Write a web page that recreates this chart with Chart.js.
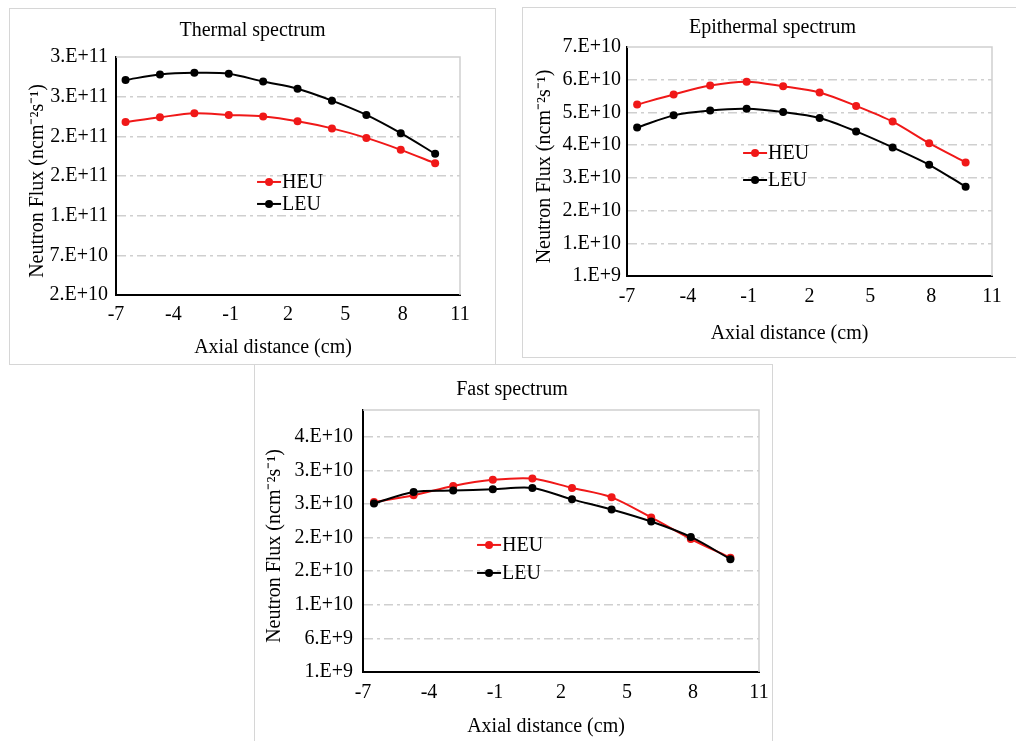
<!DOCTYPE html>
<html>
<head>
<meta charset="utf-8">
<script src="https://cdn.jsdelivr.net/npm/chart.js@4.4.1/dist/chart.umd.min.js"></script>
<style>
  body { margin: 0; background: #fff; width: 1016px; height: 741px; overflow: hidden; position: relative; }
  .panel { position: absolute; border: 1px solid #d6d6d6; box-sizing: border-box; }
  .panel canvas { display: block; }
</style>
</head>
<body>
<div class="panel" style="left:9px; top:8px; width:487px; height:357px;"><canvas id="chart-thermal" width="485" height="355"></canvas></div>
<div class="panel" style="left:522px; top:7px; width:495px; height:351px;"><canvas id="chart-epi" width="493" height="349"></canvas></div>
<div class="panel" style="left:254px; top:364px; width:519px; height:380px;"><canvas id="chart-fast" width="530" height="378"></canvas></div>
<script>
// axial positions (cm) of the 10 measurement points
const axialPos = [-6.5, -4.7, -2.9, -1.1, 0.7, 2.5, 4.3, 6.1, 7.9, 9.7];

// thermal
const thermalHEU = [2.38e11, 2.44e11, 2.49e11, 2.47e11, 2.45e11, 2.39e11, 2.30e11, 2.18e11, 2.03e11, 1.86e11];
const thermalLEU = [2.91e11, 2.98e11, 3.00e11, 2.99e11, 2.89e11, 2.80e11, 2.65e11, 2.47e11, 2.24e11, 1.98e11];
const thermalTicks = [2e10, 7e10, 1.2e11, 1.7e11, 2.2e11, 2.7e11, 3.2e11];
const thermalTickLabels = ['2.E+10', '7.E+10', '1.E+11', '2.E+11', '2.E+11', '3.E+11', '3.E+11'];

// epithermal
const epiHEU = [5.34e10, 5.65e10, 5.92e10, 6.04e10, 5.90e10, 5.71e10, 5.30e10, 4.82e10, 4.16e10, 3.57e10];
const epiLEU = [4.64e10, 5.01e10, 5.16e10, 5.21e10, 5.11e10, 4.93e10, 4.52e10, 4.03e10, 3.50e10, 2.83e10];
const epiTicks = [1e9, 1.1e10, 2.1e10, 3.1e10, 4.1e10, 5.1e10, 6.1e10, 7.1e10];
const epiTickLabels = ['1.E+9', '1.E+10', '2.E+10', '3.E+10', '4.E+10', '5.E+10', '6.E+10', '7.E+10'];

// fast
const fastHEU = [2.63e10, 2.73e10, 2.87e10, 2.96e10, 2.98e10, 2.84e10, 2.70e10, 2.40e10, 2.08e10, 1.80e10];
const fastLEU = [2.61e10, 2.78e10, 2.80e10, 2.82e10, 2.84e10, 2.67e10, 2.52e10, 2.34e10, 2.11e10, 1.78e10];
const fastTicks = [1e9, 6e9, 1.1e10, 1.6e10, 2.1e10, 2.6e10, 3.1e10, 3.6e10];
const fastTickLabels = ['1.E+9', '6.E+9', '1.E+10', '2.E+10', '2.E+10', '3.E+10', '3.E+10', '4.E+10'];

const xTicks = [-7, -4, -1, 2, 5, 8, 11];

const FONT = '"Liberation Serif", "Times New Roman", serif';
const RED = '#f01818';
const NB = n => '\u00a0'.repeat(n); // nudges centred text, Excel does not centre titles on the plot
Chart.defaults.font.family = FONT;
Chart.defaults.font.size = 20;
Chart.defaults.color = '#000';

// grey top/right frame of the plot area
const plotFrame = {
  id: 'plotFrame',
  beforeDatasetsDraw(chart) {
    const { ctx, chartArea: a } = chart;
    ctx.save();
    ctx.strokeStyle = '#d0d0d0';
    ctx.lineWidth = 1.5;
    ctx.beginPath();
    ctx.moveTo(a.left, a.top);
    ctx.lineTo(a.right, a.top);
    ctx.lineTo(a.right, a.bottom);
    ctx.stroke();
    ctx.restore();
  }
};

// legend drawn inside the plot
const innerLegend = {
  id: 'innerLegend',
  afterDatasetsDraw(chart, args, opts) {
    const { ctx, chartArea: a } = chart;
    const x0 = a.left + opts.x * (a.right - a.left);
    let y = a.top + opts.y * (a.bottom - a.top);
    ctx.save();
    chart.data.datasets.forEach(ds => {
      ctx.strokeStyle = ds.borderColor;
      ctx.fillStyle = ds.borderColor;
      ctx.lineWidth = 2;
      ctx.beginPath();
      ctx.moveTo(x0, y);
      ctx.lineTo(x0 + 24, y);
      ctx.stroke();
      ctx.beginPath();
      ctx.arc(x0 + 12, y, 4, 0, Math.PI * 2);
      ctx.fill();
      ctx.fillStyle = '#000';
      ctx.font = '20px ' + FONT;
      ctx.textBaseline = 'middle';
      ctx.fillText(ds.label, x0 + 25, y + 1);
      y += opts.gap;
    });
    ctx.restore();
  }
};

function makeChart(id, p) {
  const lo = p.ticks[0], hi = p.max;
  return new Chart(document.getElementById(id), {
    type: 'line',
    data: {
      datasets: [
        { label: 'HEU', data: axialPos.map((x, i) => ({ x, y: p.heu[i] })), borderColor: RED, backgroundColor: RED, order: 1 },
        { label: 'LEU', data: axialPos.map((x, i) => ({ x, y: p.leu[i] })), borderColor: '#000', backgroundColor: '#000', order: 0 }
      ]
    },
    options: {
      responsive: false,
      animation: false,
      layout: { padding: { left: 0, right: p.right, top: 0, bottom: 0 } },
      elements: {
        line: { borderWidth: 2, tension: 0.3 },
        point: { radius: 4, borderWidth: 0 }
      },
      plugins: {
        legend: { display: false },
        tooltip: { enabled: false },
        title: {
          display: true,
          text: NB(p.titleShift) + p.title,
          color: '#000',
          font: { size: 20, weight: 'normal' },
          padding: { top: p.titleTop, bottom: p.plotTop - p.titleTop - 24 }
        },
        innerLegend: p.legend
      },
      scales: {
        x: {
          type: 'linear',
          min: -7, max: 11,
          afterBuildTicks: s => { s.ticks = xTicks.map(v => ({ value: v })); },
          afterFit: s => { s.height = p.xHeight; },
          grid: { display: false, drawTicks: false },
          border: { display: true, color: '#000', width: 2 },
          ticks: { padding: p.xPad, font: { size: 20 }, color: '#000' },
          title: { display: true, text: 'Axial distance (cm)' + NB(p.xTitleShift), font: { size: 20 }, color: '#000', padding: { top: 0, bottom: p.xTitleBottom } }
        },
        y: {
          min: lo, max: hi,
          afterBuildTicks: s => { s.ticks = p.ticks.map(v => ({ value: v })); },
          afterFit: s => { s.width = p.plotLeft; },
          grid: {
            drawTicks: false,
            lineWidth: 1.5,
            color: c => (c.tick && (c.tick.value === lo || c.tick.value === hi)) ? 'rgba(0,0,0,0)' : '#cfcfcf'
          },
          border: { display: true, color: '#000', width: 2, dash: [9, 4, 3, 4] },
          ticks: { padding: p.yPad, font: { size: 20 }, color: '#000', callback: (v, i) => p.labels[i] },
          title: { display: true, text: 'Neutron Flux (ncm⁻²s⁻¹)' + NB(2), font: { size: 20 }, color: '#000', padding: { top: p.yTitleLeft, bottom: 0 } }
        }
      }
    },
    plugins: [plotFrame, innerLegend]
  });
}

makeChart('chart-thermal', {
  title: 'Thermal spectrum', heu: thermalHEU, leu: thermalLEU,
  ticks: thermalTicks, labels: thermalTickLabels, max: 3.2e11,
  plotLeft: 106, plotTop: 48, right: 35, xHeight: 69,
  titleTop: 10, xTitleBottom: 4, yTitleLeft: 16, yPad: 8, xPad: 8,
  titleShift: 7, xTitleShift: 6,
  legend: { x: 0.41, y: 0.525, gap: 22 }
});

makeChart('chart-epi', {
  title: 'Epithermal spectrum', heu: epiHEU, leu: epiLEU,
  ticks: epiTicks, labels: epiTickLabels, max: 7.1e10,
  plotLeft: 104, plotTop: 39, right: 24, xHeight: 81,
  titleTop: 8, xTitleBottom: 11, yTitleLeft: 10, yPad: 6, xPad: 9,
  titleShift: 6, xTitleShift: 8,
  legend: { x: 0.318, y: 0.463, gap: 27 }
});

makeChart('chart-fast', {
  title: 'Fast spectrum', heu: fastHEU, leu: fastLEU,
  ticks: fastTicks, labels: fastTickLabels, max: 4e10,
  plotLeft: 108, plotTop: 45, right: 26, xHeight: 71,
  titleTop: 13, xTitleBottom: 4, yTitleLeft: 8, yPad: 10, xPad: 9,
  titleShift: 2, xTitleShift: 6,
  legend: { x: 0.288, y: 0.515, gap: 28 }
});
</script>
</body>
</html>
